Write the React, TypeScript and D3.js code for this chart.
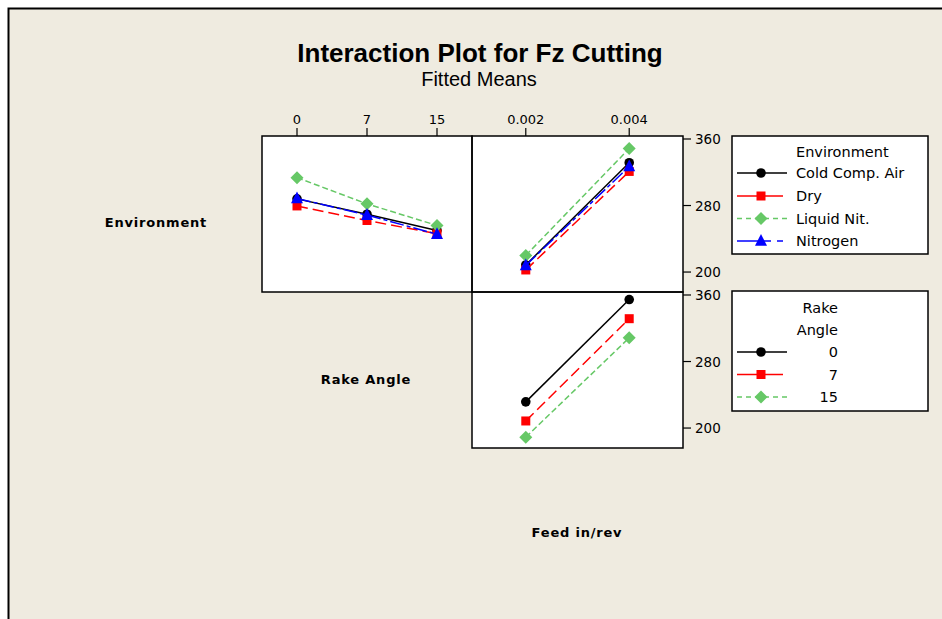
import React from "react";
import * as d3 from "d3";

const envLevels = ["Cold Comp. Air", "Dry", "Liquid Nit.", "Nitrogen"];
const rakeLevels = ["0", "7", "15"];
const feedLevels = ["0.002", "0.004"];
const yTicks = [200, 280, 360];

// Environment x Rake Angle (fitted means)
const envByRakeCold = [288, 269.5, 250];
const envByRakeDry = [279.5, 262, 246];
const envByRakeLiquid = [313.5, 282, 256];
const envByRakeNitrogen = [288.5, 268.5, 245.5];

// Environment x Feed
const envByFeedCold = [208.5, 331.5];
const envByFeedDry = [202.5, 321];
const envByFeedLiquid = [220, 348.5];
const envByFeedNitrogen = [208, 327];

// Rake Angle x Feed
const rakeByFeed0 = [231.5, 354.5];
const rakeByFeed7 = [208.5, 331.5];
const rakeByFeed15 = [189, 308.5];

type Shape = "circle" | "square" | "diamond" | "triangle";
const styles: { color: string; dash: string; shape: Shape }[] = [
  { color: "#000000", dash: "none", shape: "circle" },
  { color: "#ff0000", dash: "11,5", shape: "square" },
  { color: "#66c866", dash: "6,3", shape: "diamond" },
  { color: "#0000ff", dash: "14,3,4,3", shape: "triangle" },
];

const FONT = "DejaVu Sans, Verdana, sans-serif";
const BG = "#efebe0";

function Marker({ shape, x, y, color }: { shape: Shape; x: number; y: number; color: string }) {
  if (shape === "circle") return <circle cx={x} cy={y} r={4.8} fill={color} />;
  if (shape === "square") return <rect x={x - 4.5} y={y - 4.5} width={9} height={9} fill={color} />;
  if (shape === "diamond")
    return <path d={`M${x},${y - 6.5}L${x + 6.5},${y}L${x},${y + 6.5}L${x - 6.5},${y}Z`} fill={color} />;
  return <path d={`M${x},${y - 7}L${x + 6},${y + 4.8}L${x - 6},${y + 4.8}Z`} fill={color} />;
}

function Series({
  xs, ys, styleIdx,
}: { xs: number[]; ys: number[]; styleIdx: number }) {
  const st = styles[styleIdx];
  const pts: [number, number][] = xs.map((x, i) => [x, ys[i]]);
  const line = d3.line()(pts) || "";
  return (
    <g>
      <path d={line} fill="none" stroke={st.color} strokeWidth={1.5} strokeDasharray={st.dash} />
      {pts.map((p, i) => (
        <Marker key={i} shape={st.shape} x={p[0]} y={p[1]} color={st.color} />
      ))}
    </g>
  );
}

export default function App() {
  const W = 942, H = 619;
  const xRake = d3.scalePoint<string>().domain(rakeLevels).range([262, 472]).padding(0.5);
  const xFeed = d3.scalePoint<string>().domain(feedLevels).range([472, 683]).padding(0.52);
  const yTop = d3.scaleLinear().domain([176, 363.6]).range([292, 136]);
  const yBot = d3.scaleLinear().domain([176, 363.6]).range([448, 292]);

  const envRake = [envByRakeCold, envByRakeDry, envByRakeLiquid, envByRakeNitrogen];
  const envFeed = [envByFeedCold, envByFeedDry, envByFeedLiquid, envByFeedNitrogen];
  const rakeFeed = [rakeByFeed0, rakeByFeed7, rakeByFeed15];

  const rakeX = rakeLevels.map((r) => xRake(r) as number);
  const feedX = feedLevels.map((f) => xFeed(f) as number);

  const legendLine = (idx: number, cy: number) => {
    const st = styles[idx];
    let segs: [number, number][] = [[737, 787]];
    if (idx === 1) segs = [[737, 783]];
    if (idx === 3) segs = [[737, 771], [777, 783]];
    return (
      <g key={idx + "-" + cy}>
        {segs.map((s, i) => (
          <line key={i} x1={s[0]} x2={s[1]} y1={cy} y2={cy} stroke={st.color} strokeWidth={1.5}
            strokeDasharray={idx === 2 ? "5,4" : "none"} />
        ))}
        <Marker shape={st.shape} x={761} y={cy} color={st.color} />
      </g>
    );
  };

  const envLegendY = [173, 196, 218.5, 241];
  const rakeLegendY = [352, 374.5, 397];
  const LFS = 14.5;

  return (
    <svg width={W} height={H} style={{ position: "absolute", left: 0, top: 0, background: "#ffffff" }}>
      <rect x={8.5} y={8.5} width={W + 10} height={H + 10} fill={BG} stroke="#000" strokeWidth={2} />
      <text x={480} y={62} textAnchor="middle" fontFamily="Liberation Sans, Arial, sans-serif" fontWeight="bold" fontSize={26}>
        Interaction Plot for Fz Cutting
      </text>
      <text x={479} y={86} textAnchor="middle" fontFamily="Liberation Sans, Arial, sans-serif" fontSize={20}>
        Fitted Means
      </text>

      {/* row/column labels */}
      <text x={156} y={227} textAnchor="middle" fontFamily={FONT} fontWeight="bold" fontSize={13} letterSpacing={0.8}>Environment</text>
      <text x={366} y={384} textAnchor="middle" fontFamily={FONT} fontWeight="bold" fontSize={13} letterSpacing={0.8}>Rake Angle</text>
      <text x={577} y={537} textAnchor="middle" fontFamily={FONT} fontWeight="bold" fontSize={13} letterSpacing={0.8}>Feed in/rev</text>

      {/* panels */}
      <rect x={262} y={136} width={210} height={156} fill="#fff" />
      <rect x={472} y={136} width={211} height={156} fill="#fff" />
      <rect x={472} y={292} width={211} height={156} fill="#fff" />

      {/* top ticks */}
      {rakeLevels.map((r, i) => (
        <g key={"rt" + r}>
          <line x1={rakeX[i]} x2={rakeX[i]} y1={128} y2={136} stroke="#000" strokeWidth={1.2} />
          <text x={rakeX[i]} y={124} textAnchor="middle" fontFamily={FONT} fontSize={13}>{r}</text>
        </g>
      ))}
      {feedLevels.map((f, i) => (
        <g key={"ft" + f}>
          <line x1={feedX[i]} x2={feedX[i]} y1={128} y2={136} stroke="#000" strokeWidth={1.2} />
          <text x={feedX[i]} y={124} textAnchor="middle" fontFamily={FONT} fontSize={13}>{f}</text>
        </g>
      ))}
      {/* right ticks */}
      {yTicks.map((t) => (
        <g key={"yt" + t}>
          <line x1={683} x2={691} y1={yTop(t)} y2={yTop(t)} stroke="#000" strokeWidth={1.2} />
          <text x={695} y={yTop(t) + 5} fontFamily={FONT} fontSize={13.5}>{t}</text>
          <line x1={683} x2={691} y1={yBot(t)} y2={yBot(t)} stroke="#000" strokeWidth={1.2} />
          <text x={695} y={yBot(t) + 5} fontFamily={FONT} fontSize={13.5}>{t}</text>
        </g>
      ))}

      {/* data */}
      {envRake.map((vals, i) => (
        <Series key={"er" + i} xs={rakeX} ys={vals.map((v) => yTop(v))} styleIdx={i} />
      ))}
      {envFeed.map((vals, i) => (
        <Series key={"ef" + i} xs={feedX} ys={vals.map((v) => yTop(v))} styleIdx={i} />
      ))}
      {rakeFeed.map((vals, i) => (
        <Series key={"rf" + i} xs={feedX} ys={vals.map((v) => yBot(v))} styleIdx={i} />
      ))}

      {/* panel borders */}
      <rect x={262} y={136} width={210} height={156} fill="none" stroke="#000" strokeWidth={1.5} />
      <rect x={472} y={136} width={211} height={156} fill="none" stroke="#000" strokeWidth={1.5} />
      <rect x={472} y={292} width={211} height={156} fill="none" stroke="#000" strokeWidth={1.5} />

      {/* legend 1 */}
      <rect x={732} y={136} width={196} height={118} fill="#fff" stroke="#000" strokeWidth={1.5} />
      <text x={796} y={157} fontFamily={FONT} fontSize={LFS}>Environment</text>
      {envLevels.map((e, i) => (
        <g key={"le" + e}>
          {legendLine(i, envLegendY[i])}
          <text x={796} y={envLegendY[i] + 5} fontFamily={FONT} fontSize={LFS}>{e}</text>
        </g>
      ))}

      {/* legend 2 */}
      <rect x={732} y={291} width={196} height={120} fill="#fff" stroke="#000" strokeWidth={1.5} />
      <text x={838} y={313} textAnchor="end" fontFamily={FONT} fontSize={LFS}>Rake</text>
      <text x={838} y={335} textAnchor="end" fontFamily={FONT} fontSize={LFS}>Angle</text>
      {rakeLevels.map((r, i) => (
        <g key={"lr" + r}>
          {legendLine(i, rakeLegendY[i])}
          <text x={838} y={rakeLegendY[i] + 5} textAnchor="end" fontFamily={FONT} fontSize={LFS}>{r}</text>
        </g>
      ))}
    </svg>
  );
}
